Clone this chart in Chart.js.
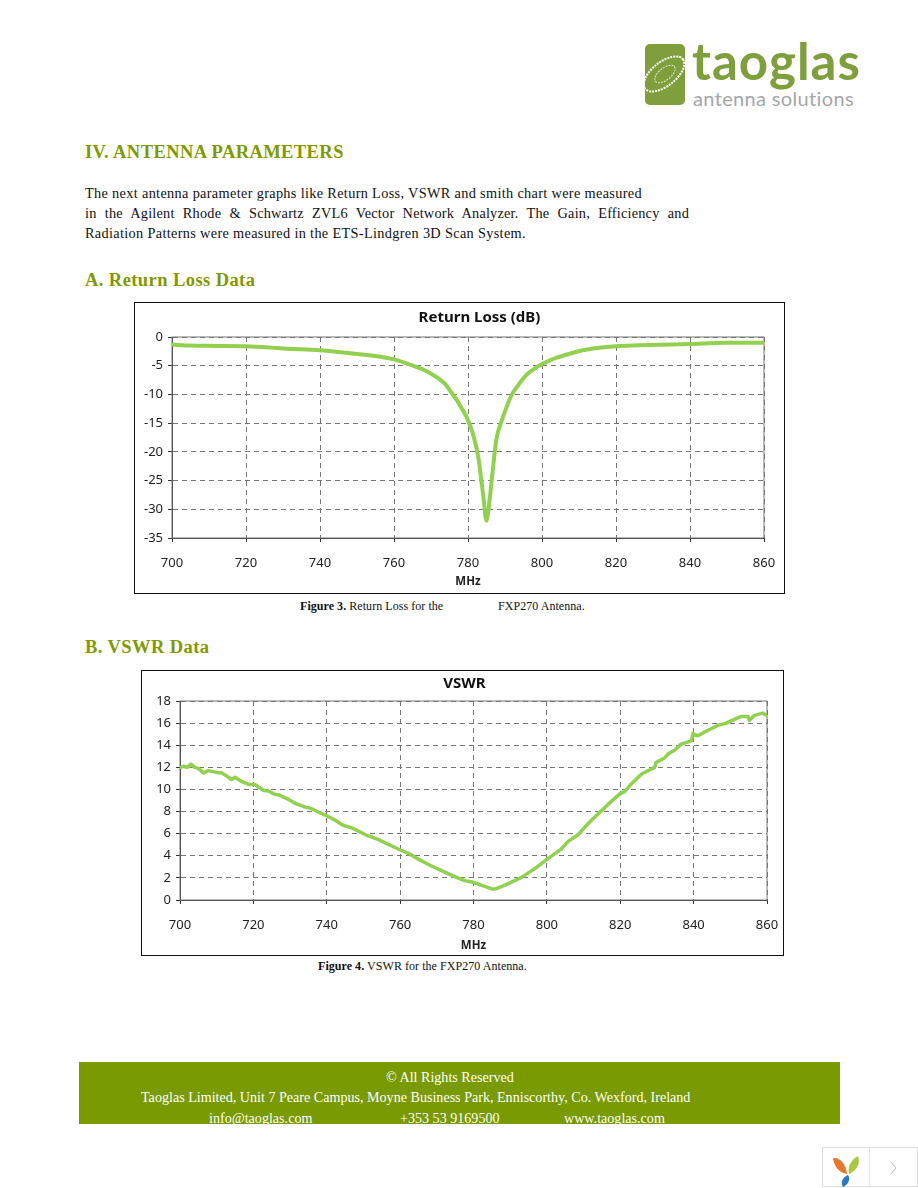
<!DOCTYPE html>
<html>
<head>
<meta charset="utf-8">
<script src="https://cdn.jsdelivr.net/npm/chart.js@4"></script>
<style>
html, body { margin: 0; padding: 0; background: #fff; }
body { width: 918px; height: 1188px; position: relative; overflow: hidden; font-family: "Liberation Serif", serif; color: #111; }
.t { position: absolute; white-space: nowrap; }
.h { font-weight: bold; font-size: 18.5px; letter-spacing: .42px; color: #7f9a00; left: 85px; }
.p { font-size: 14.3px; letter-spacing: .33px; left: 85px; }
.cap { font-size: 12px; letter-spacing: .05px; }
.frame { position: absolute; border: 1px solid #111; background: #fff; box-sizing: border-box; }
.frame canvas { display: block; }
#foot { position: absolute; left: 79px; top: 1062px; width: 761px; height: 62px; background: #7a9a01; color: #fff; overflow: hidden; font-size: 14.1px; }
#foot .t { color: #fff; }
</style>
</head>
<body>

<!-- logo -->
<svg class="t" style="left:645px;top:44px" width="40" height="61" viewBox="0 0 40 61">
  <rect width="40" height="61" rx="5" fill="#7f9f3c"/>
  <ellipse cx="19" cy="30" rx="24" ry="12" transform="rotate(-38 19 30)" fill="none" stroke="#fff" stroke-width="2" stroke-dasharray="2 1"/>
  <ellipse cx="20" cy="30" rx="12" ry="6" transform="rotate(-38 20 30)" fill="none" stroke="#dfe8c8" stroke-width="1" stroke-dasharray="2 1"/>
</svg>
<div class="t" style="left:692px;top:30px;font:bold 51px Lato,sans-serif;color:#7f9f3c;letter-spacing:1px">taoglas</div>
<div class="t" style="left:693px;top:86px;font:20px Lato,sans-serif;color:#a3a7ab;letter-spacing:.35px">antenna solutions</div>

<div class="t h" style="top:142px">IV. ANTENNA PARAMETERS</div>
<div class="t p" style="top:185px">The next antenna parameter graphs like Return Loss, VSWR and smith chart were measured</div>
<div class="t p" style="top:205px;width:604px;text-align:justify;text-align-last:justify;white-space:normal;letter-spacing:.2px">in the Agilent Rhode &amp; Schwartz ZVL6 Vector Network Analyzer. The Gain, Efficiency and</div>
<div class="t p" style="top:225px">Radiation Patterns were measured in the ETS-Lindgren 3D Scan System.</div>
<div class="t h" style="top:270px">A. Return Loss Data</div>

<div class="frame" style="left:134px;top:302px;width:651px;height:292px"><canvas id="returnLoss"></canvas></div>
<div class="t cap" style="left:300px;top:599px"><b>Figure 3.</b> Return Loss for the</div>
<div class="t cap" style="left:498px;top:599px">FXP270 Antenna.</div>

<div class="t h" style="top:637px">B. VSWR Data</div>

<div class="frame" style="left:141px;top:670px;width:643px;height:286px"><canvas id="vswr"></canvas></div>
<div class="t cap" style="left:318px;top:959px"><b>Figure 4.</b> VSWR for the FXP270 Antenna.</div>

<div id="foot">
  <div class="t" style="left:307px;top:7px">© All Rights Reserved</div>
  <div class="t" style="left:62px;top:27px">Taoglas Limited, Unit 7 Peare Campus, Moyne Business Park, Enniscorthy, Co. Wexford, Ireland</div>
  <div class="t" style="left:130px;top:48px">info@taoglas.com</div>
  <div class="t" style="left:321px;top:48px">+353 53 9169500</div>
  <div class="t" style="left:485px;top:48px">www.taoglas.com</div>
</div>

<!-- viewer widget -->
<div style="position:absolute;left:822px;top:1147px;width:96px;height:40px;border:1px solid #ddd;box-sizing:border-box">
  <div style="position:absolute;left:46px;top:0;width:1px;height:38px;background:#e4e4e4"></div>
  <svg style="position:absolute;left:9px;top:7px" width="29" height="32" viewBox="0 0 29 32">
    <path d="M1 3 C8 2 14 9 15 19 C7 18 2 11 1 3Z" fill="#e8762c"/>
    <path d="M26 1 C29 9 24 16 17 19 C15 11 20 4 26 1Z" fill="#a9c93f"/>
    <path d="M16 20 C19 24 16 30 11 32 C8 27 11 22 16 20Z" fill="#2a78c2"/>
  </svg>
  <svg style="position:absolute;left:67px;top:13px" width="8" height="14" viewBox="0 0 8 14"><path d="M1 1 L6 7 L1 13" fill="none" stroke="#bbb"/></svg>
</div>

<script>
const rlFreq = [700, 705, 712, 720, 727, 730, 740, 745, 752, 756, 760, 763, 766, 768, 770, 772, 774, 775, 776, 777, 778, 779.6, 781.4, 782.8, 784.1, 785, 785.9, 786.4, 787.7, 789, 791.8, 793, 795.8, 798, 800, 802, 804, 807, 811, 815, 820, 829, 840, 850, 860];
const rlDb = [-1.3, -1.5, -1.55, -1.6, -1.85, -2, -2.3, -2.6, -3.1, -3.4, -3.9, -4.5, -5.2, -5.7, -6.4, -7.2, -8.3, -9.2, -10.1, -11, -12.1, -13.9, -17, -21, -27.5, -32, -28, -25, -17.7, -14.8, -10.1, -8.9, -6.6, -5.5, -4.7, -4.1, -3.6, -3, -2.3, -1.9, -1.6, -1.4, -1.2, -1, -1];

const vsFreq = [700, 701, 702, 703, 704, 705, 706.4, 707.7, 710.5, 711.4, 712.8, 714, 715, 716.9, 718.7, 720.4, 722.8, 724.2, 725.5, 726.9, 729.6, 731.4, 734.2, 735.6, 737.4, 740.1, 742.4, 744.2, 747, 750.6, 753.8, 757, 760.2, 762.4, 765.2, 768.4, 771, 774.3, 777.5, 780, 785, 786, 788.6, 793.1, 797.2, 800, 803.9, 805.8, 808.5, 811.2, 814, 815.3, 817.5, 819.9, 821.2, 823, 825.8, 829.4, 829.8, 832.1, 833, 834.8, 836.6, 839.4, 839.8, 841.2, 843, 846.6, 848.5, 850.2, 853, 854.8, 855.2, 856.6, 858.8, 860];
const vsValues = [12, 12.1, 12, 12.3, 12, 11.9, 11.5, 11.7, 11.5, 11.5, 11.2, 10.9, 11.1, 10.7, 10.45, 10.45, 9.9, 9.85, 9.6, 9.5, 9.1, 8.75, 8.4, 8.3, 8, 7.6, 7.2, 6.8, 6.5, 5.9, 5.5, 5, 4.5, 4.2, 3.65, 3.1, 2.7, 2.2, 1.75, 1.6, 1, 1, 1.35, 2.05, 2.95, 3.67, 4.6, 5.3, 5.9, 6.9, 7.8, 8.2, 8.9, 9.6, 9.8, 10.5, 11.4, 12, 12.45, 12.85, 13.2, 13.55, 14.1, 14.4, 15.05, 14.85, 15.2, 15.8, 15.95, 16.2, 16.6, 16.6, 16.25, 16.7, 16.9, 16.7];

const axisFont = '"Noto Sans", sans-serif';

const plotBox = {
    id: "plotBox",
    // the original title sits right of the chart centre
    afterLayout(chart) {
        const t = chart.titleBlock, dx = chart.options.titleShift;
        t.left += dx;
        t.right += dx;
    },
    // grey box round the plot area, like the Excel chart
    beforeDatasetsDraw(chart) {
        const a = chart.chartArea, c = chart.ctx;
        c.save();
        c.strokeStyle = "#777";
        c.lineWidth = 1;
        c.strokeRect(a.left, a.top, a.right - a.left, a.bottom - a.top);
        c.restore();
    }
};

// keep the plot area where the padding says, whatever the label widths
function noLabelPadding(s) {
    s.paddingLeft = 0;
    s.paddingRight = 0;
    s.paddingTop = 0;
    s.paddingBottom = 0;
}

function makeChart(id, w, h, title, xs, ys, yMin, yMax, yStep, box, lineWidth, smooth) {
    const canvas = document.getElementById(id);
    canvas.style.width = w + "px";
    canvas.style.height = h + "px";
    canvas.width = w;
    canvas.height = h;
    return new Chart(canvas, {
        type: "line",
        data: {
            datasets: [{
                data: xs.map((x, i) => ({ x: x, y: ys[i] })),
                borderColor: "#92d050",
                borderWidth: lineWidth,
                borderJoinStyle: "round",
                borderCapStyle: "round",
                pointRadius: 0,
                cubicInterpolationMode: smooth ? "monotone" : "default",
                tension: 0,
                fill: false
            }]
        },
        options: {
            responsive: false,
            animation: false,
            titleShift: box.shift,
            layout: { padding: { left: 0, right: box.right, top: 0, bottom: 0 } },
            plugins: {
                legend: { display: false },
                tooltip: { enabled: false },
                title: {
                    display: true,
                    text: title,
                    color: "#111",
                    font: { family: axisFont, size: 15, weight: "bold" },
                    padding: { top: box.titleTop, bottom: box.titleBottom }
                }
            },
            scales: {
                x: {
                    type: "linear",
                    min: 700,
                    max: 860,
                    afterFit: s => { s.height = box.bottom; noLabelPadding(s); },
                    ticks: { stepSize: 20, maxRotation: 0, color: "#222", padding: box.tickPad, font: { family: axisFont, size: 13 } },
                    grid: { color: "#777", tickColor: "#333", tickLength: 4, tickBorderDash: [], drawOnChartArea: true },
                    border: { color: "#333", dash: [5, 4] },
                    title: { display: true, text: "MHz", color: "#222", padding: { top: 0, bottom: box.mhzPad }, font: { family: axisFont, size: 11.5, weight: "bold" } }
                },
                y: {
                    min: yMin,
                    max: yMax,
                    afterFit: s => { s.width = box.left; noLabelPadding(s); },
                    ticks: { stepSize: yStep, color: "#222", padding: 5, font: { family: axisFont, size: 13 } },
                    grid: { color: "#777", tickColor: "#333", tickLength: 4, tickBorderDash: [] },
                    border: { color: "#333", dash: [5, 4] }
                }
            }
        },
        plugins: [plotBox]
    });
}

makeChart("returnLoss", 649, 290, "Return Loss (dB)", rlFreq, rlDb, -35, 0, 5,
    { left: 37, right: 20, bottom: 55, titleTop: 6, titleBottom: 10, shift: 30, tickPad: 13, mhzPad: 4 }, 4, true);
makeChart("vswr", 641, 284, "VSWR", vsFreq, vsValues, 0, 18, 2,
    { left: 38, right: 16, bottom: 55, titleTop: 4, titleBottom: 8, shift: 10, tickPad: 13, mhzPad: 2 }, 3.5, false);
</script>
</body>
</html>
